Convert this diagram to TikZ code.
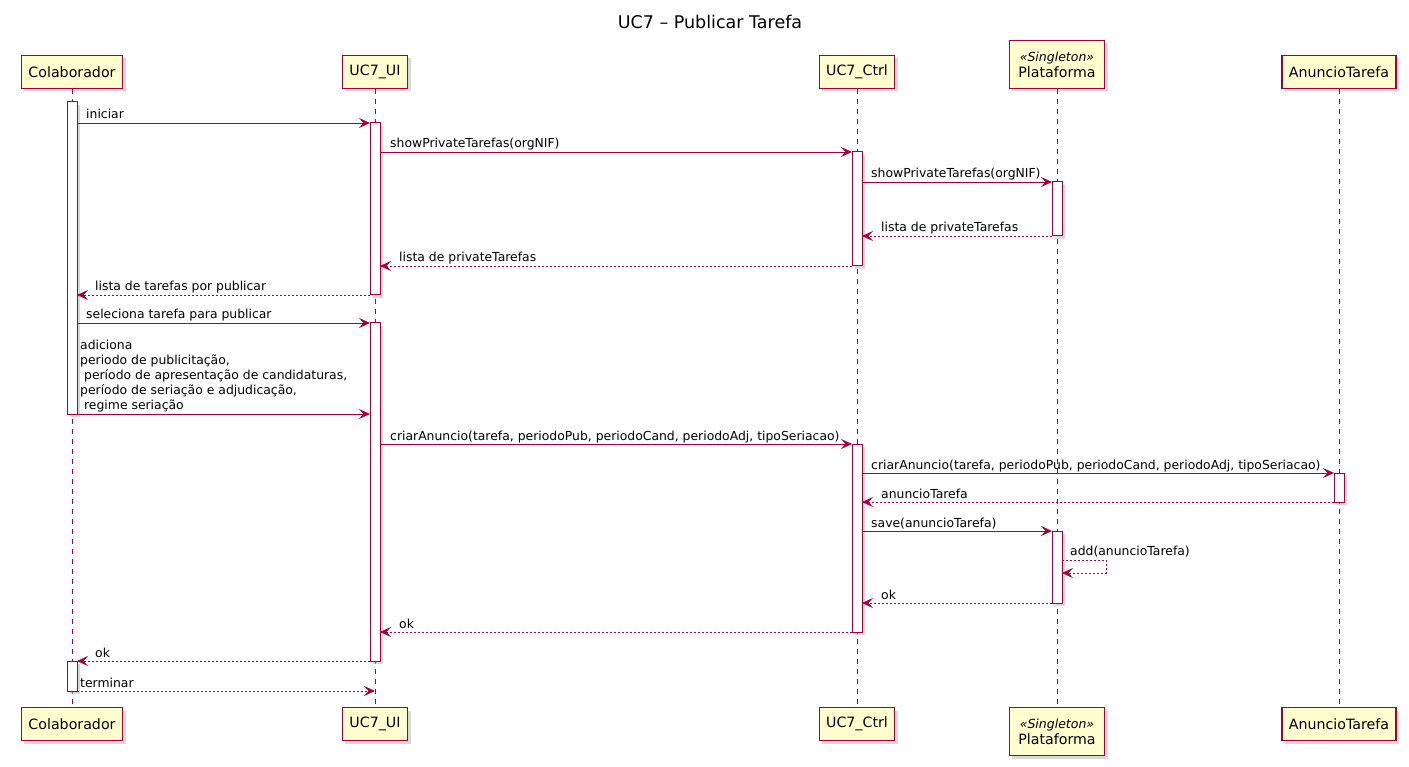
\documentclass[tikz,border=0pt]{standalone}
\usepackage{fontspec}
\setmainfont{DejaVu Sans}
\usetikzlibrary{shadows}
\usetikzlibrary{arrows.meta}
\usetikzlibrary{calc}

\definecolor{umlred}{HTML}{A80036}
\definecolor{umlfill}{HTML}{FEFECE}

\tikzset{
  actor/.style={draw=umlred, fill=umlfill, line width=1.2pt, minimum height=33pt, inner xsep=7pt,
    font=\fontsize{14.2}{16}\selectfont,
    drop shadow={shadow xshift=3pt, shadow yshift=-3pt, fill=black!30}},
  lifeline/.style={draw=umlred, line width=0.9pt, dash pattern=on 5pt off 5pt},
  actbar/.style={draw=umlred, fill=white, line width=1pt,
    drop shadow={shadow xshift=3pt, shadow yshift=-3pt, fill=black!30}},
  msg/.style={draw=umlred, line width=0.9pt, -{Stealth[length=11pt, width=10pt, inset=4.5pt]}},
  reply/.style={msg, dash pattern=on 2pt off 2pt},
  msgtext/.style={font=\fontsize{12.4}{15}\selectfont, anchor=base west, inner sep=0pt},
}

\begin{document}
\begin{tikzpicture}[x=1pt, y=-1pt]
  \useasboundingbox (0,0) rectangle (1409,767);

  \node[font=\fontsize{17.5}{20}\selectfont] (title) at (710,22) {UC7 – Publicar Tarefa};

  % participants, top and bottom
  \foreach \name/\x/\txt in {col/72/Colaborador, ui/375/UC7\_UI, ctrl/857/UC7\_Ctrl, anun/1339/AnuncioTarefa} {
    \node[actor, anchor=south] (top-\name) at (\x,89) {\txt};
    \node[actor, anchor=north] (bot-\name) at (\x,707) {\txt};
  }
  \node[actor, anchor=south, align=center, minimum height=48pt, inner xsep=9pt] (top-plat) at (1057,89)
    {{\fontsize{12.5}{14}\selectfont\itshape «Singleton»}\\Plataforma};
  \node[actor, anchor=north, align=center, minimum height=48pt, inner xsep=9pt] (bot-plat) at (1057,707)
    {{\fontsize{12.5}{14}\selectfont\itshape «Singleton»}\\Plataforma};

  % lifelines
  \foreach \name in {col, ui, ctrl, plat, anun}
    \draw[lifeline] (top-\name) -- (bot-\name);

  % activations
  \foreach \x/\ya/\yb in {72/102/414, 72/661/691, 375/123/295, 375/323/661, 857/152/266,
                          857/444/632, 1057/182/236, 1057/531/603, 1339/473/502}
    \draw[actbar] (\x-5,\ya) rectangle (\x+5,\yb);

  % messages
  \foreach \n/\xa/\xb/\y/\kind/\lx/\txt in {
      1/77/370/123/msg/86/iniciar,
      2/380/852/152/msg/390/showPrivateTarefas(orgNIF),
      3/862/1052/182/msg/871/showPrivateTarefas(orgNIF),
      4/1052/862/236/reply/881/lista de privateTarefas,
      5/852/380/266/reply/399/lista de privateTarefas,
      6/370/77/295/reply/95/lista de tarefas por publicar,
      7/77/370/323/msg/86/seleciona tarefa para publicar,
      8/77/370/414/msg/80/{},
      9/380/852/444/msg/390/{criarAnuncio(tarefa, periodoPub, periodoCand, periodoAdj, tipoSeriacao)},
      10/862/1334/473/msg/871/{criarAnuncio(tarefa, periodoPub, periodoCand, periodoAdj, tipoSeriacao)},
      11/1334/862/502/reply/881/anuncioTarefa,
      12/862/1052/531/msg/871/save(anuncioTarefa),
      14/1052/862/603/reply/881/ok,
      15/852/380/632/reply/399/ok,
      16/370/77/661/reply/95/ok,
      17/77/375/691/reply/80/terminar} {
    \coordinate (m\n-from) at (\xa,\y);
    \coordinate (m\n-to) at (\xb,\y);
    \draw[\kind] (m\n-from) -- (m\n-to);
    \node[msgtext] (l\n) at (\lx,\y-4) {\txt};
  }

  \node[msgtext, anchor=south west, align=left] (l8text) at (80,412)
    {adiciona\\periodo de publicitação,\\\ período de apresentação de candidaturas,\\período de seriação e adjudicação,\\\ regime seriação};

  % self call
  \coordinate (m13-from) at (1062,560);
  \coordinate (m13-to) at (1062,573);
  \draw[reply] (m13-from) -- ++(44,0) |- (m13-to);
  \node[msgtext] (l13) at (1070,555) {add(anuncioTarefa)};

\end{tikzpicture}
\end{document}
